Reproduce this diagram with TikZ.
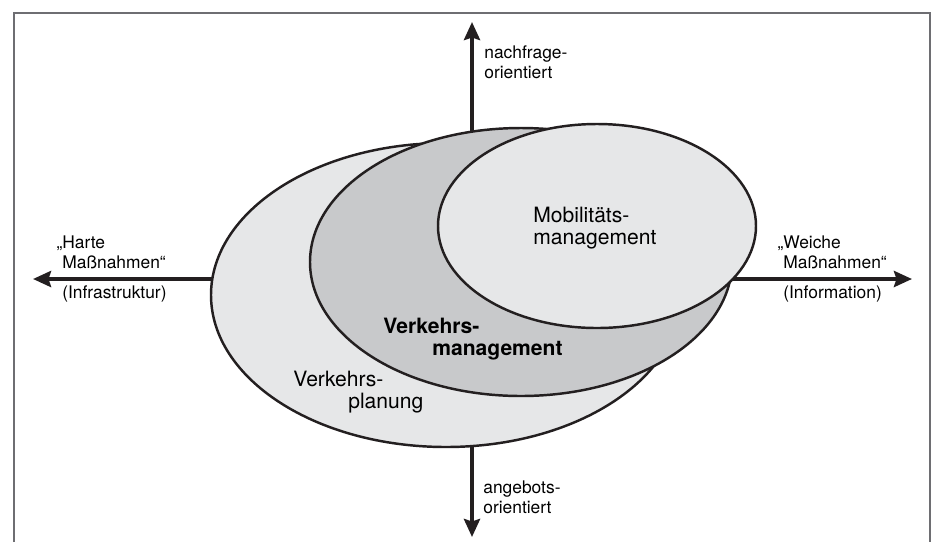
\documentclass[tikz,border=0pt]{standalone}
\usepackage{fontspec}
\setmainfont{TeX Gyre Heros}
\usetikzlibrary{arrows.meta}
\definecolor{lightfill}{HTML}{E6E7E8}
\definecolor{darkfill}{HTML}{C8C9CB}
\definecolor{framegray}{HTML}{6E6E72}
\definecolor{ink}{HTML}{231F20}

\begin{document}
\begin{tikzpicture}[x=0.02cm, y=-0.02cm,
  axis/.style={line width=2.2pt, draw=ink, -{Stealth[length=0.36cm,width=0.32cm,inset=0.05cm]}},
  field/.style={draw=ink, line width=1.4pt},
  small/.style={font=\fontsize{9.9}{11.3}\selectfont, align=left, anchor=base west, inner sep=0pt},
  big/.style={font=\fontsize{12}{12.5}\selectfont, align=left, anchor=base west, inner sep=0pt},
  bold/.style={big, font=\fontsize{12}{12.5}\selectfont\bfseries}]

\useasboundingbox (0,0) rectangle (933,542);
\draw[framegray, line width=1.1pt] (14,542) -- (14,13) -- (930,13) -- (930,542);

% axes first, the fields cover their inner part
\coordinate (centre) at (472,279);
\coordinate (nachfrageTip) at (472,22);
\coordinate (angebotTip) at (472,537);
\coordinate (hartTip) at (33,279);
\coordinate (weichTip) at (912,279);
\draw[axis] (centre) -- (nachfrageTip);
\draw[axis] (centre) -- (angebotTip);
\draw[axis] (centre) -- (hartTip);
\draw[axis] (centre) -- (weichTip);

% the three fields
\filldraw[field, fill=lightfill] (446,295) ellipse [x radius=235, y radius=152];
\filldraw[field, fill=darkfill] (521,262) ellipse [x radius=211, y radius=134];
\filldraw[field, fill=lightfill] (597,226) ellipse [x radius=159, y radius=102];

% labels (base = last line)
\node[big] (mobil) at (533,244) {Mobilitäts-\\management};
\node[bold] (vmanage) at (383,355) {Verkehrs-\\\hspace*{0.98cm}management};
\node[big] (vplan) at (293,408) {Verkehrs-\\\hspace*{1.1cm}planung};

\node[small] (nachfrage) at (484,78) {nachfrage-\\orientiert};
\node[small] (angebot) at (483,513) {angebots-\\orientiert};
\node[small] (hart) at (62,268) {\llap{„}Harte\\Maßnahmen“};
\node[small] (infra) at (62,298) {(Infrastruktur)};
\node[small] (weich) at (783,268) {\llap{„}Weiche\\Maßnahmen“};
\node[small] (info) at (783,298) {(Information)};

\end{tikzpicture}
\end{document}
